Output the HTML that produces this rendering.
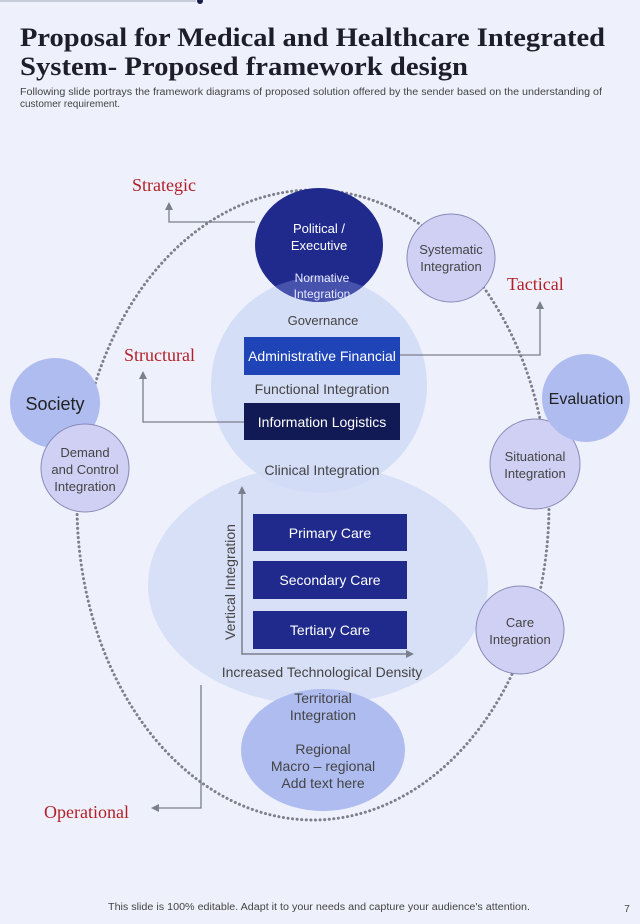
<!DOCTYPE html>
<html><head><meta charset="utf-8"><style>
body{margin:0;background:#eef1fb;}
svg{display:block}
</style></head><body>
<svg width="640" height="924" viewBox="0 0 640 924" xmlns="http://www.w3.org/2000/svg" font-family="Liberation Sans, sans-serif">
<rect width="640" height="924" fill="#eef1fb"/>
<line x1="0" y1="1" x2="196" y2="1" stroke="#c8cbd8" stroke-width="2"/>
<circle cx="200" cy="1" r="3" fill="#1b1f4a"/>
<text x="20" y="46" font-family="Liberation Serif, serif" font-weight="bold" font-size="26" fill="#1e1e2a" textLength="585" lengthAdjust="spacingAndGlyphs">Proposal for Medical and Healthcare Integrated</text>
<text x="20" y="75" font-family="Liberation Serif, serif" font-weight="bold" font-size="26" fill="#1e1e2a" textLength="448" lengthAdjust="spacingAndGlyphs">System- Proposed framework design</text>
<text x="20" y="95" font-size="10" fill="#444" textLength="582" lengthAdjust="spacingAndGlyphs">Following slide portrays the framework diagrams of proposed solution offered by the sender based on the understanding of</text>
<text x="20" y="107" font-size="10" fill="#444">customer requirement.</text>

<defs>
<clipPath id="cu"><circle cx="319" cy="385" r="108"/></clipPath>
</defs>

<ellipse cx="318" cy="585" rx="170" ry="120" fill="#d8e0f7"/>
<circle cx="319" cy="385" r="108" fill="#d2dbf6" opacity="0.9"/>
<ellipse cx="323" cy="750" rx="82" ry="61" fill="#aebcf0"/>

<ellipse cx="313" cy="505" rx="236" ry="315" fill="none" stroke="#7c7f8c" stroke-width="3" stroke-dasharray="0.1 4.5" stroke-linecap="round"/>

<ellipse cx="319" cy="245" rx="64" ry="57" fill="#1f2a8c"/>
<ellipse cx="319" cy="245" rx="64" ry="57" fill="#4752ad" clip-path="url(#cu)"/>
<text x="319" y="233" text-anchor="middle" font-size="13" fill="#fff">Political /</text>
<text x="319" y="250" text-anchor="middle" font-size="13" fill="#fff">Executive</text>
<text x="322" y="282" text-anchor="middle" font-size="12" fill="#e6e9ff">Normative</text>
<text x="322" y="298" text-anchor="middle" font-size="12" fill="#e6e9ff">Integration</text>
<text x="323" y="325" text-anchor="middle" font-size="13" fill="#444">Governance</text>

<circle cx="451" cy="258" r="44" fill="#cfd0f3" stroke="#8a8ab8"/>
<text x="451" y="254" text-anchor="middle" font-size="13" fill="#444">Systematic</text>
<text x="451" y="271" text-anchor="middle" font-size="13" fill="#444">Integration</text>

<circle cx="55" cy="403" r="45" fill="#aebcf0"/>
<text x="55" y="410" text-anchor="middle" font-size="18" fill="#222">Society</text>
<circle cx="85" cy="468" r="44" fill="#cfd0f3" stroke="#8a8ab8"/>
<text x="85" y="457" text-anchor="middle" font-size="13" fill="#444">Demand</text>
<text x="85" y="474" text-anchor="middle" font-size="13" fill="#444">and Control</text>
<text x="85" y="491" text-anchor="middle" font-size="13" fill="#444">Integration</text>

<circle cx="535" cy="464" r="45" fill="#cfd0f3" stroke="#8a8ab8"/>
<text x="535" y="461" text-anchor="middle" font-size="13" fill="#444">Situational</text>
<text x="535" y="478" text-anchor="middle" font-size="13" fill="#444">Integration</text>
<circle cx="586" cy="398" r="44" fill="#aebcf0"/>
<text x="586" y="404" text-anchor="middle" font-size="16" fill="#222">Evaluation</text>

<circle cx="520" cy="630" r="44" fill="#cfd0f3" stroke="#8a8ab8"/>
<text x="520" y="627" text-anchor="middle" font-size="13" fill="#444">Care</text>
<text x="520" y="644" text-anchor="middle" font-size="13" fill="#444">Integration</text>

<rect x="244" y="337" width="156" height="38" fill="#1f44b8"/>
<text x="322" y="361" text-anchor="middle" font-size="14" fill="#fff">Administrative Financial</text>
<text x="322" y="394" text-anchor="middle" font-size="14" fill="#444">Functional Integration</text>
<rect x="244" y="403" width="156" height="37" fill="#121a55"/>
<text x="322" y="427" text-anchor="middle" font-size="14" fill="#fff">Information Logistics</text>
<text x="322" y="475" text-anchor="middle" font-size="14" fill="#444">Clinical Integration</text>

<rect x="253" y="514" width="154" height="37" fill="#1f2a8c"/>
<text x="330" y="538" text-anchor="middle" font-size="14" fill="#fff">Primary Care</text>
<rect x="253" y="561" width="154" height="38" fill="#1f2a8c"/>
<text x="330" y="585" text-anchor="middle" font-size="14" fill="#fff">Secondary Care</text>
<rect x="253" y="611" width="154" height="38" fill="#1f2a8c"/>
<text x="330" y="635" text-anchor="middle" font-size="14" fill="#fff">Tertiary Care</text>

<polyline points="242,489 242,654 410,654" fill="none" stroke="#7a7f8c" stroke-width="1.5"/>
<path d="M238,494 L242,486 L246,494 z" fill="#7a7f8c"/>
<path d="M406,650 L414,654 L406,658 z" fill="#7a7f8c"/>
<text x="235" y="582" text-anchor="middle" font-size="14" fill="#444" transform="rotate(-90 235 582)">Vertical Integration</text>
<text x="322" y="677" text-anchor="middle" font-size="14" fill="#444">Increased Technological Density</text>

<text x="323" y="703" text-anchor="middle" font-size="14" fill="#444">Territorial</text>
<text x="323" y="720" text-anchor="middle" font-size="14" fill="#444">Integration</text>
<text x="323" y="754" text-anchor="middle" font-size="14" fill="#444">Regional</text>
<text x="323" y="771" text-anchor="middle" font-size="14" fill="#444">Macro – regional</text>
<text x="323" y="788" text-anchor="middle" font-size="14" fill="#444">Add text here</text>

<g fill="none" stroke="#7a7f8c" stroke-width="1.3">
<polyline points="255,222 169,222 169,208"/>
<polyline points="400,355 540,355 540,307"/>
<polyline points="244,422 143,422 143,377"/>
<polyline points="201,685 201,808 157,808"/>
</g>
<path d="M165,210 L169,202 L173,210 z" fill="#7a7f8c"/>
<path d="M536,309 L540,301 L544,309 z" fill="#7a7f8c"/>
<path d="M139,379 L143,371 L147,379 z" fill="#7a7f8c"/>
<path d="M159,804 L151,808 L159,812 z" fill="#7a7f8c"/>

<g font-family="Liberation Serif, serif" font-size="18" fill="#b3202a">
<text x="132" y="191">Strategic</text>
<text x="507" y="290">Tactical</text>
<text x="124" y="361">Structural</text>
<text x="44" y="818">Operational</text>
</g>

<text x="108" y="910" font-size="10" fill="#444" textLength="422" lengthAdjust="spacingAndGlyphs">This slide is 100% editable. Adapt it to your needs and capture your audience's attention.</text>
<text x="627" y="912" text-anchor="middle" font-size="10" fill="#444">7</text>
</svg>
</body></html>
